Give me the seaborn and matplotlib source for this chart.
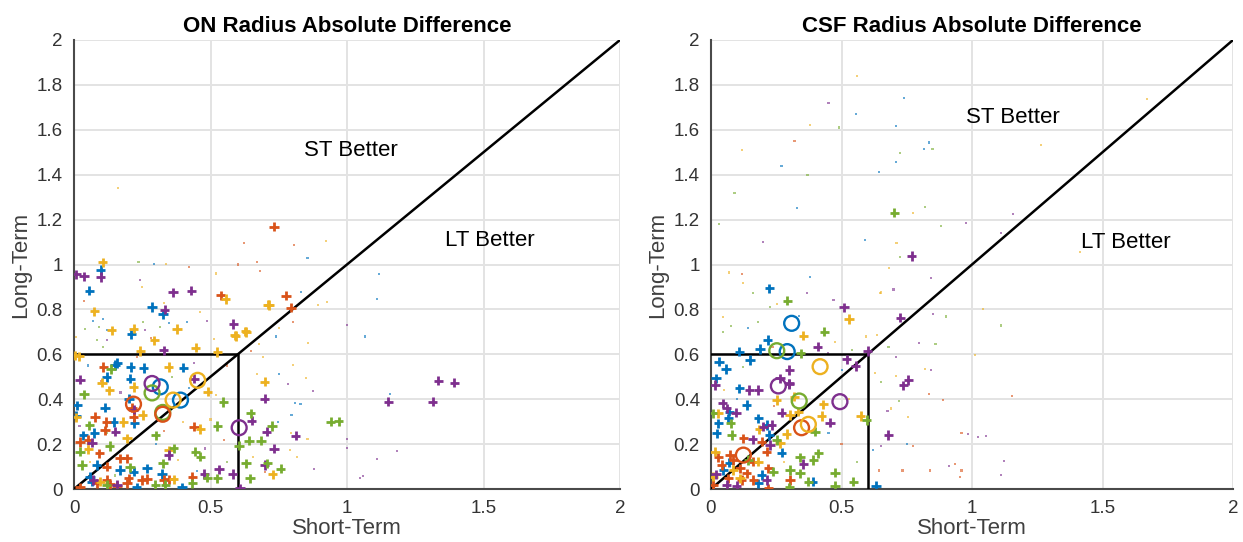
import matplotlib
matplotlib.use("Agg")
import matplotlib.pyplot as plt
import seaborn as sns
import pandas as pd
import numpy as np

# ---------------- data ----------------
COLORS = {"b": "#0072BD", "o": "#D95319", "y": "#EDB120", "p": "#7E2F8E", "g": "#77AC30"}

# ON panel: "+" markers per color
on_plus_p = [(0.007, 0.956), (0.037, 0.947), (0.098, 0.944), (0.363, 0.876), (0.430, 0.884), (0.332, 0.799),
             (0.328, 0.618), (0.439, 0.492), (0.022, 0.487), (0.066, 0.206), (0.151, 0.255), (0.478, 0.067),
             (0.218, 0.354), (0.157, 0.018), (0.531, 0.087), (0.347, 0.151), (0.071, 0.040),
             (1.334, 0.482), (1.393, 0.474), (1.151, 0.389), (1.314, 0.389), (0.584, 0.735), (0.698, 0.402),
             (0.651, 0.304), (0.706, 0.255), (0.812, 0.237), (0.733, 0.180), (0.698, 0.107), (0.581, 0.067),
             (0.608, 0.003)]
on_plus_b = [(0.098, 0.976), (0.056, 0.884), (0.286, 0.810), (0.326, 0.778), (0.210, 0.689), (0.159, 0.561),
             (0.208, 0.544), (0.255, 0.539), (0.400, 0.541), (0.120, 0.499), (0.206, 0.492), (0.201, 0.403),
             (0.221, 0.292), (0.114, 0.363), (0.145, 0.299), (0.012, 0.373), (0.034, 0.239), (0.074, 0.250),
             (0.083, 0.107), (0.059, 0.055), (0.169, 0.084), (0.218, 0.077), (0.267, 0.092), (0.322, 0.067),
             (0.396, 0.007), (0.230, 0.007), (0.065, 0.033), (0.007, 0.326), (0.150, 0.552)]
on_plus_o = [(0.537, 0.862), (0.777, 0.861), (0.795, 0.808), (0.733, 1.168), (0.108, 0.544), (0.218, 0.321),
             (0.077, 0.321), (0.118, 0.299), (0.022, 0.210), (0.053, 0.218), (0.093, 0.159), (0.120, 0.099),
             (0.169, 0.136), (0.194, 0.136), (0.194, 0.025), (0.249, 0.040), (0.267, 0.044), (0.328, 0.040),
             (0.347, 0.043), (0.433, 0.055), (0.439, 0.277), (0.022, 0.007), (0.120, 0.040), (0.083, 0.025),
             (0.132, 0.021), (0.157, 0.013), (0.200, 0.047), (0.114, 0.262), (0.212, 0.363)]
on_plus_y = [(0.105, 1.009), (0.075, 0.791), (0.138, 0.707), (0.218, 0.714), (0.294, 0.662), (0.377, 0.713),
             (0.243, 0.615), (0.446, 0.630), (0.525, 0.610), (0.592, 0.681), (0.631, 0.699), (0.711, 0.821),
             (0.556, 0.847), (0.018, 0.591), (0.102, 0.474), (0.129, 0.440), (0.218, 0.455), (0.252, 0.329),
             (0.181, 0.299), (0.194, 0.225), (0.053, 0.176), (0.347, 0.173), (0.365, 0.043), (0.463, 0.267),
             (0.490, 0.434), (0.698, 0.478), (0.728, 0.065), (0.007, 0.319), (0.347, 0.544), (0.096, 0.033),
             (0.004, 0.596), (0.714, 0.820), (0.589, 0.685), (0.628, 0.702)]
on_plus_g = [(0.136, 0.535), (0.037, 0.422), (0.056, 0.284), (0.022, 0.166), (0.029, 0.107), (0.131, 0.191),
             (0.205, 0.096), (0.299, 0.239), (0.326, 0.114), (0.445, 0.166), (0.463, 0.144), (0.525, 0.280),
             (0.547, 0.388), (0.525, 0.047), (0.488, 0.050), (0.433, 0.025), (0.298, 0.018), (0.335, 0.018),
             (0.365, 0.181), (0.120, 0.018), (0.940, 0.300), (0.970, 0.302), (0.647, 0.337), (0.725, 0.281),
             (0.641, 0.215), (0.685, 0.215), (0.604, 0.193), (0.630, 0.114), (0.708, 0.114), (0.757, 0.090),
             (0.645, 0.048)]
on_circles = [(0.286, 0.470, "p"), (0.605, 0.273, "p"), (0.316, 0.455, "b"), (0.390, 0.396, "b"),
              (0.286, 0.428, "g"), (0.325, 0.341, "g"), (0.218, 0.378, "o"), (0.325, 0.333, "o"),
              (0.363, 0.396, "y"), (0.453, 0.484, "y")]
on_dots = [(0.624, 1.097, "o"), (0.806, 1.087, "o"), (0.922, 1.106, "y"), (0.669, 1.010, "o"), (0.855, 1.028, "b"),
           (0.681, 0.972, "o"), (1.116, 0.958, "b"), (1.110, 0.848, "b"), (0.832, 0.879, "b"), (0.926, 0.832, "y"),
           (0.895, 0.820, "y"), (0.999, 0.731, "p"), (1.067, 0.679, "b"), (0.740, 0.679, "b"), (0.679, 0.646, "y"),
           (0.856, 0.652, "y"), (0.647, 0.615, "o"), (0.803, 0.745, "o"), (0.751, 0.716, "y"), (0.691, 0.589, "y"),
           (0.801, 0.552, "y"), (0.752, 0.512, "b"), (0.669, 0.512, "y"), (0.850, 0.496, "y"), (0.783, 0.466, "p"),
           (0.874, 0.438, "p"), (1.158, 0.423, "b"), (0.810, 0.382, "b"), (0.830, 0.377, "b"), (0.797, 0.330, "b"),
           (0.746, 0.300, "b"), (0.795, 0.251, "y"), (0.855, 0.221, "y"), (1.001, 0.221, "p"), (1.001, 0.181, "p"),
           (1.182, 0.169, "p"), (0.791, 0.174, "y"), (0.816, 0.144, "y"), (1.109, 0.132, "p"), (0.657, 0.144, "y"),
           (0.700, 0.077, "o"), (0.879, 0.088, "p"), (1.060, 0.058, "p"), (1.048, 0.048, "p"),
           (0.236, 1.012, "g"), (0.293, 1.002, "b"), (0.337, 1.002, "y"), (0.242, 0.931, "p"), (0.248, 0.898, "y"),
           (0.037, 0.839, "o"), (0.330, 0.830, "y"), (0.071, 0.750, "b"), (0.105, 0.756, "b"), (0.093, 0.723, "g"),
           (0.040, 0.711, "g"), (0.120, 0.708, "b"), (0.252, 0.745, "g"), (0.349, 0.741, "b"), (0.413, 0.745, "b"),
           (0.486, 0.750, "p"), (0.462, 0.790, "y"), (0.007, 0.676, "y"), (0.083, 0.664, "g"), (0.122, 0.664, "p"),
           (0.260, 0.708, "p"), (0.315, 0.720, "g"), (0.513, 0.667, "y"), (0.105, 0.631, "g"), (0.281, 0.671, "o"),
           (0.232, 0.589, "o"), (0.160, 1.340, "y"), (0.050, 0.550, "b"), (0.100, 0.480, "o"), (0.170, 0.430, "p"),
           (0.260, 0.520, "y"), (0.360, 0.500, "g"), (0.420, 0.450, "b"), (0.500, 0.310, "y"), (0.550, 0.220, "o"),
           (0.480, 0.180, "p"), (0.380, 0.130, "y"), (0.300, 0.200, "b"), (0.120, 0.250, "g"), (0.060, 0.120, "y"),
           (0.250, 0.050, "p"), (0.450, 0.080, "b"), (0.560, 0.550, "o"), (0.520, 0.420, "y"), (0.020, 0.280, "p"),
           (0.330, 0.260, "o"), (0.150, 0.060, "g"), (0.400, 0.300, "y"), (0.560, 0.120, "g"), (0.440, 0.560, "p"),
           (0.420, 0.990, "o"), (0.600, 1.000, "o"), (0.520, 0.960, "y")]

# CSF panel
csf_plus_b = [(0.224, 0.894), (0.217, 0.664), (0.188, 0.624), (0.109, 0.612), (0.031, 0.567), (0.057, 0.535),
              (0.149, 0.575), (0.019, 0.493), (0.109, 0.448), (0.137, 0.374), (0.070, 0.344), (0.066, 0.315),
              (0.028, 0.293), (0.022, 0.248), (0.181, 0.315), (0.213, 0.285), (0.223, 0.241), (0.271, 0.162),
              (0.047, 0.085), (0.181, 0.025), (0.390, 0.033), (0.632, 0.013), (0.070, 0.117), (0.194, 0.062)]
csf_plus_g = [(0.292, 0.839), (0.434, 0.701), (0.344, 0.604), (0.006, 0.337), (0.075, 0.293), (0.079, 0.241),
              (0.252, 0.218), (0.398, 0.255), (0.411, 0.159), (0.392, 0.129), (0.341, 0.141), (0.303, 0.085),
              (0.341, 0.070), (0.373, 0.033), (0.300, 0.008), (0.475, 0.073), (0.475, 0.013), (0.545, 0.033),
              (0.597, 0.307), (0.143, 0.129), (0.239, 0.077), (0.702, 1.231)]
csf_plus_p = [(0.510, 0.809), (0.409, 0.634), (0.520, 0.578), (0.554, 0.548), (0.600, 0.615), (0.300, 0.530),
              (0.264, 0.493), (0.300, 0.471), (0.015, 0.463), (0.147, 0.441), (0.181, 0.441), (0.300, 0.468),
              (0.045, 0.382), (0.060, 0.359), (0.096, 0.340), (0.271, 0.340), (0.233, 0.285), (0.200, 0.278),
              (0.456, 0.295), (0.160, 0.221), (0.354, 0.111), (0.213, 0.040), (0.098, 0.013), (0.019, 0.065),
              (0.226, 0.196), (0.060, 0.018), (0.769, 1.038), (0.725, 0.763), (0.756, 0.486), (0.737, 0.462),
              (0.680, 0.241)]
csf_plus_y = [(0.529, 0.757), (0.354, 0.683), (0.252, 0.396), (0.303, 0.330), (0.319, 0.411), (0.335, 0.344),
              (0.430, 0.377), (0.424, 0.325), (0.574, 0.325), (0.290, 0.245), (0.264, 0.204), (0.028, 0.337),
              (0.015, 0.166), (0.111, 0.048), (0.085, 0.085), (0.181, 0.122), (0.185, 0.266), (0.009, 0.055)]
csf_plus_o = [(0.124, 0.226), (0.194, 0.211), (0.213, 0.166), (0.162, 0.122), (0.085, 0.129), (0.028, 0.141),
              (0.041, 0.107), (0.111, 0.092), (0.137, 0.070), (0.066, 0.048), (0.009, 0.018), (0.220, 0.003),
              (0.303, 0.040), (0.162, 0.040), (0.073, 0.151), (0.220, 0.092), (0.118, 0.040)]
csf_circles = [(0.309, 0.738, "b"), (0.292, 0.612, "b"), (0.252, 0.616, "g"), (0.418, 0.545, "y"),
               (0.258, 0.459, "p"), (0.338, 0.392, "g"), (0.494, 0.389, "p"), (0.347, 0.273, "o"),
               (0.373, 0.288, "y"), (0.124, 0.151, "o")]
csf_dots = [(0.741, 1.740, "b"), (0.709, 1.617, "b"), (0.836, 1.543, "b"), (0.816, 1.514, "b"), (0.849, 1.514, "g"),
            (0.724, 1.498, "g"), (0.709, 1.458, "b"), (0.644, 1.413, "b"), (1.263, 1.532, "y"), (1.672, 1.737, "y"),
            (0.820, 1.255, "g"), (0.775, 1.231, "y"), (1.158, 1.225, "p"), (0.977, 1.186, "p"), (0.880, 1.171, "g"),
            (0.590, 1.109, "b"), (0.711, 1.094, "y"), (1.111, 1.139, "p"), (1.414, 1.057, "y"), (0.724, 1.032, "g"),
            (0.682, 0.986, "y"), (0.842, 0.941, "p"), (0.699, 0.889, "p"), (0.650, 0.875, "y"), (0.852, 0.778, "p"),
            (0.900, 0.768, "g"), (1.043, 0.800, "y"), (1.111, 0.728, "g"), (0.594, 0.679, "y"), (0.796, 0.652, "p"),
            (0.860, 0.645, "g"), (0.680, 0.634, "g"), (0.709, 0.589, "p"), (1.011, 0.597, "y"), (0.821, 0.533, "y"),
            (0.842, 0.530, "p"), (0.628, 0.515, "y"), (0.651, 0.475, "g"), (0.708, 0.505, "y"), (0.836, 0.422, "o"),
            (0.888, 0.396, "o"), (0.719, 0.392, "g"), (1.152, 0.414, "o"), (0.690, 0.359, "y"), (0.676, 0.347, "p"),
            (0.756, 0.319, "y"), (0.960, 0.248, "o"), (0.986, 0.244, "p"), (1.024, 0.233, "p"), (1.054, 0.237, "p"),
            (0.750, 0.199, "b"), (0.775, 0.192, "o"), (0.650, 0.192, "p"), (0.620, 0.174, "b"), (1.124, 0.125, "p"),
            (0.913, 0.104, "p"), (0.935, 0.111, "o"), (0.960, 0.082, "o"), (0.954, 0.055, "o"), (1.111, 0.062, "p"),
            (0.839, 0.082, "o"), (0.734, 0.082, "o"), (0.644, 0.082, "o"),
            (0.070, 0.964, "y"), (0.118, 0.958, "o"), (0.124, 0.916, "y"), (0.162, 0.872, "g"), (0.047, 0.767, "y"),
            (0.077, 0.726, "g"), (0.045, 0.701, "g"), (0.226, 0.809, "g"), (0.254, 0.824, "y"), (0.369, 0.872, "p"),
            (0.379, 0.946, "b"), (0.337, 0.771, "b"), (0.469, 0.842, "p"), (0.475, 0.656, "y"), (0.539, 0.619, "g"),
            (0.648, 0.872, "y"), (0.635, 0.686, "y"), (0.143, 0.716, "b"), (0.181, 0.745, "g"), (0.236, 0.634, "o"),
            (0.124, 0.545, "g"), (0.501, 0.530, "b"), (0.449, 0.604, "p"), (0.560, 1.840, "y"), (0.450, 1.720, "p"),
            (0.555, 1.670, "b"), (0.380, 1.620, "y"), (0.490, 1.610, "g"), (0.320, 1.550, "o"), (0.270, 1.440, "b"),
            (0.370, 1.400, "g"), (0.120, 1.510, "y"), (0.090, 1.320, "g"), (0.330, 1.250, "b"), (0.030, 1.180, "g"),
            (0.200, 1.100, "p"), (0.050, 0.440, "y"), (0.100, 0.400, "b"), (0.240, 0.370, "o"), (0.460, 0.460, "g"),
            (0.530, 0.400, "y"), (0.500, 0.200, "o"), (0.560, 0.120, "g"), (0.450, 0.250, "b"), (0.280, 0.120, "y")]

AXIS_MAX = 2.0
THRESH = 0.6
panels = [("ON Radius Absolute Difference", on_plus_b, on_plus_o, on_plus_y, on_plus_p, on_plus_g, on_circles, on_dots,
           (1.015, 1.506), (1.524, 1.105)),
          ("CSF Radius Absolute Difference", csf_plus_b, csf_plus_o, csf_plus_y, csf_plus_p, csf_plus_g, csf_circles, csf_dots,
           (1.157, 1.653), (1.590, 1.100))]

# ---------------- style ----------------
sns.set_theme(style="whitegrid")
plt.rcParams["font.family"] = ["Liberation Sans", "DejaVu Sans"]

fig = plt.figure(figsize=(12.43, 5.42), dpi=100)
ax_rects = [[74 / 1243, 53 / 542, 546 / 1243, 449 / 542],
            [711 / 1243, 53 / 542, 522 / 1243, 449 / 542]]

for rect, (title, pb, po, py_, pp, pg, circ, dots, st_pos, lt_pos) in zip(ax_rects, panels):
    ax = fig.add_axes(rect)
    ax.set_facecolor("white")
    # tiny dots
    ddf = pd.DataFrame(dots, columns=["x", "y", "c"])
    sns.scatterplot(data=ddf, x="x", y="y", hue="c", palette=COLORS, marker="s", s=2.5, alpha=0.6,
                    linewidth=0, legend=False, ax=ax, zorder=2)
    # reference lines
    ax.plot([0, AXIS_MAX], [0, AXIS_MAX], color="black", lw=1.8, zorder=3)
    ax.plot([0, THRESH, THRESH], [THRESH, THRESH, 0], color="black", lw=1.8, zorder=3)
    # plus markers
    rows = []
    for code, pts in (("b", pb), ("o", po), ("y", py_), ("p", pp), ("g", pg)):
        rows += [(x, y, code) for x, y in pts]
    pdf = pd.DataFrame(rows, columns=["x", "y", "c"])
    sns.scatterplot(data=pdf, x="x", y="y", hue="c", palette=COLORS, marker="+", s=45,
                    linewidth=2.0, legend=False, ax=ax, zorder=4)
    # circles
    cdf = pd.DataFrame(circ, columns=["x", "y", "c"])
    for code, sub in cdf.groupby("c"):
        sns.scatterplot(data=sub, x="x", y="y", marker="o", s=115, facecolors="none",
                        edgecolor=COLORS[code], linewidth=1.7, legend=False, ax=ax, zorder=5)
    ax.text(*st_pos, "ST Better", fontsize=16, ha="center", va="center", color="black")
    ax.text(*lt_pos, "LT Better", fontsize=16, ha="center", va="center", color="black")

    ax.set_xlim(0, AXIS_MAX)
    ax.set_ylim(0, AXIS_MAX)
    ax.set_xticks([0, 0.5, 1, 1.5, 2])
    ax.set_xticklabels(["0", "0.5", "1", "1.5", "2"])
    yt = [0, 0.2, 0.4, 0.6, 0.8, 1.0, 1.2, 1.4, 1.6, 1.8, 2.0]
    ax.set_yticks(yt)
    ax.set_yticklabels(["0", "0.2", "0.4", "0.6", "0.8", "1", "1.2", "1.4", "1.6", "1.8", "2"])
    ax.grid(True, color="#E3E3E3", linewidth=1.4)
    ax.set_axisbelow(True)
    for side in ("top", "right"):
        ax.spines[side].set_visible(False)
    for side in ("left", "bottom"):
        ax.spines[side].set_color("#4a4a4a")
        ax.spines[side].set_linewidth(1.5)
    ax.tick_params(direction="in", length=5, width=1.2, color="#4a4a4a", labelsize=13.5,
                   labelcolor="#333333", pad=8)
    ax.set_xlabel("Short-Term", fontsize=16, color="#404040", labelpad=1)
    ax.set_ylabel("Long-Term", fontsize=16, color="#404040", labelpad=4)
    ax.set_title(title, fontsize=16, fontweight="bold", color="black", pad=6)

fig.savefig("out.png", dpi=100, facecolor="white")
